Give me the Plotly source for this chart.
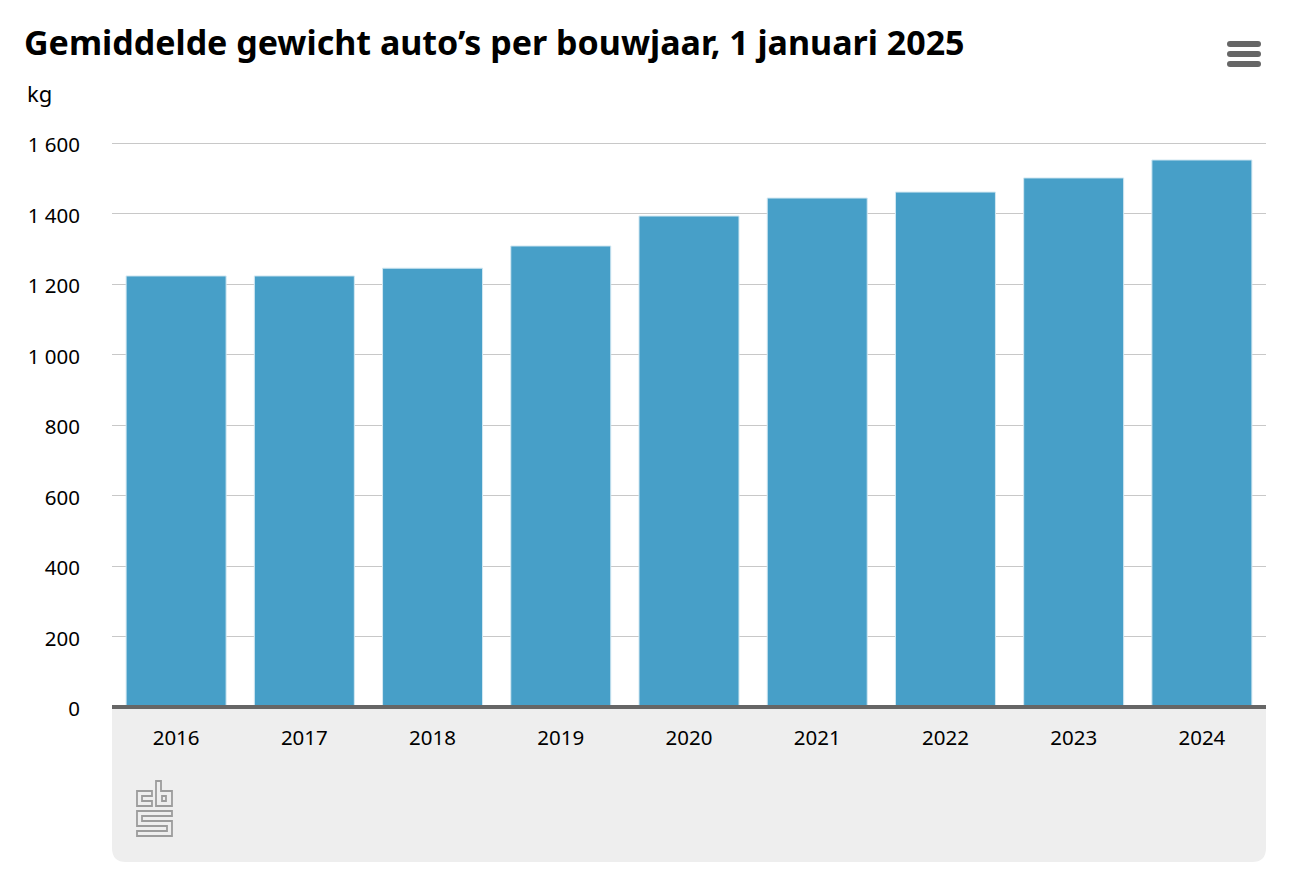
import plotly.graph_objects as go

years = ["2016", "2017", "2018", "2019", "2020", "2021", "2022", "2023", "2024"]
weights = [1223, 1223, 1245, 1308, 1393, 1444, 1461, 1501, 1552]
y_ticks = [0, 200, 400, 600, 800, 1000, 1200, 1400, 1600]
y_labels = ["0", "200", "400", "600", "800", "1 000", "1 200", "1 400", "1 600"]
title = "Gemiddelde gewicht auto’s per bouwjaar, 1 januari 2025"
unit = "kg"

W, H = 1292, 890
L, R, T, B = 112, 1266, 142, 707
FONT = "Noto Sans"


def xp(x):
    return (x - L) / (R - L)


def yp(y):
    return (B - y) / (B - T)


def pshape(d, **kw):
    return dict(type="path", xref="paper", yref="paper", path=d, **kw)


def poly(points):
    return "M " + " L ".join(f"{xp(x):.5f},{yp(y):.5f}" for x, y in points) + " Z"


def rrect(x0, y0, x1, y1, r_top, r_bot):
    a, b, c, d = xp(x0), xp(x1), yp(y0), yp(y1)
    tx, ty = r_top / (R - L), r_top / (B - T)
    bx, by = r_bot / (R - L), r_bot / (B - T)
    return (
        f"M {a + tx:.5f},{c:.5f} L {b - tx:.5f},{c:.5f} Q {b:.5f},{c:.5f} {b:.5f},{c - ty:.5f} "
        f"L {b:.5f},{d + by:.5f} Q {b:.5f},{d:.5f} {b - bx:.5f},{d:.5f} "
        f"L {a + bx:.5f},{d:.5f} Q {a:.5f},{d:.5f} {a:.5f},{d + by:.5f} "
        f"L {a:.5f},{c - ty:.5f} Q {a:.5f},{c:.5f} {a + tx:.5f},{c:.5f} Z"
    )


shapes = [pshape(rrect(L, B, R, 862, 0, 14), fillcolor="#eeeeee", line_width=0, layer="below")]
logo_line = dict(color="#9c9c9c", width=1.8)
for pts in [
    [(137, 791), (152, 791), (152, 796), (142, 796), (142, 801), (152, 801), (152, 806), (137, 806)],
    [(156, 781), (161, 781), (161, 791), (172, 791), (172, 806), (156, 806)],
    [(162, 796), (166, 796), (166, 801), (162, 801)],
    [(137, 811), (172, 811), (172, 816), (142, 816), (142, 821), (172, 821), (172, 836), (137, 836),
     (137, 831), (167, 831), (167, 826), (137, 826)],
]:
    shapes.append(pshape(poly(pts), line=logo_line, fillcolor="rgba(0,0,0,0)"))
for y0 in (41, 51, 61):
    shapes.append(pshape(rrect(1227, y0, 1261, y0 + 6, 3, 3), fillcolor="#666666", line_width=0))
# heavy baseline, straddling the foot of the plot area
shapes.append(pshape(poly([(L, 705), (R, 705), (R, 709), (L, 709)]), fillcolor="#666666", line_width=0))

fig = go.Figure(go.Bar(
    x=years, y=weights,
    marker=dict(color="#479fc8", line=dict(color="#d3e8f2", width=1)),
    width=0.78, hoverinfo="x+y",
))
fig.update_layout(
    width=W, height=H,
    margin=dict(l=L, r=W - R, t=T, b=H - B, pad=0),
    paper_bgcolor="white", plot_bgcolor="white",
    showlegend=False,
    font=dict(family=FONT, color="#000000", size=20.5),
    title=dict(text=f"<b>{title}</b>", x=24 / W, xanchor="left", y=1 - 43 / H, yanchor="middle",
               font=dict(family=FONT, size=34, color="#000000")),
    xaxis=dict(type="category", range=[-0.5, 8.5], showgrid=False, showline=False, zeroline=False,
               ticks="outside", ticklen=12, tickcolor="rgba(0,0,0,0)", tickfont=dict(size=20.5)),
    yaxis=dict(range=[0, 1603], tickvals=y_ticks, ticktext=y_labels, gridcolor="#c8c8c8", gridwidth=1,
               zeroline=False, showline=False, ticks="outside", ticklen=27, ticklabelshift=2,
               tickcolor="rgba(0,0,0,0)", tickfont=dict(size=20.5)),
    shapes=shapes,
    annotations=[dict(text=unit, xref="paper", yref="paper", x=xp(25), y=yp(93), xanchor="left",
                      yanchor="middle", showarrow=False, font=dict(size=22))],
)
fig.write_html("out.html", config=dict(displayModeBar=False),
               post_script="document.body.style.margin='0';")
